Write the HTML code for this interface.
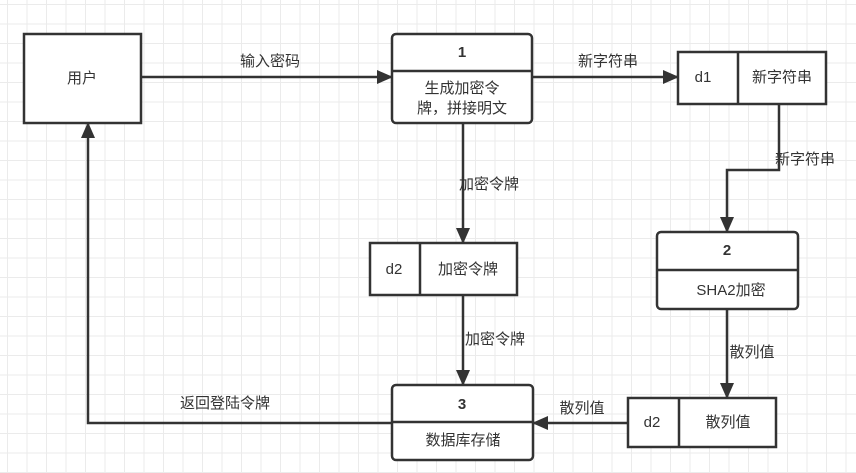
<!DOCTYPE html>
<html><head><meta charset="utf-8"><style>
body{margin:0;width:856px;height:473px;overflow:hidden;background:#fff;
background-image:linear-gradient(#ebebeb 1px,transparent 1px),linear-gradient(90deg,#ebebeb 1px,transparent 1px);background-size:19.5px 19.5px;background-position:7px 4px}
svg{position:absolute;left:0;top:0}
text{font-family:"Liberation Sans","Noto Sans CJK SC",sans-serif;font-size:15px;fill:#333;text-anchor:middle;dominant-baseline:middle}
.b{font-weight:bold}
</style></head><body>
<svg width="856" height="473" viewBox="0 0 856 473">
<defs><marker id="a2" markerWidth="16" markerHeight="14" refX="15" refY="7" orient="auto" markerUnits="userSpaceOnUse"><path d="M0,0 L16,7 L0,14 z" fill="#333"/></marker></defs>
<g stroke="#333" stroke-width="2.5" fill="#fff">
<rect x="24" y="34" width="117" height="89"/>
<rect x="392" y="34" width="140" height="89" rx="4"/><line x1="392" y1="71" x2="532" y2="71"/>
<rect x="678" y="52" width="148" height="52"/><line x1="738" y1="52" x2="738" y2="104"/>
<rect x="657" y="232" width="141" height="77" rx="4"/><line x1="657" y1="270" x2="798" y2="270"/>
<rect x="370" y="243" width="147" height="52"/><line x1="420" y1="243" x2="420" y2="295"/>
<rect x="628" y="398" width="148" height="49"/><line x1="679" y1="398" x2="679" y2="447"/>
<rect x="392" y="385" width="141" height="75" rx="4"/><line x1="392" y1="422" x2="533" y2="422"/>
<g fill="none" marker-end="url(#a2)">
<line x1="141" y1="77" x2="392" y2="77"/>
<line x1="532" y1="77" x2="678" y2="77"/>
<polyline points="779,104 779,170 727,170 727,232"/>
<line x1="727" y1="309" x2="727" y2="398"/>
<line x1="628" y1="423" x2="533" y2="423"/>
<line x1="463" y1="123" x2="463" y2="243"/>
<line x1="463" y1="295" x2="463" y2="385"/>
<polyline points="392,423 88,423 88,123"/>
</g></g>
<text x="82" y="79">用户</text>
<text x="462" y="53" class="b">1</text>
<text x="462" y="89">生成加密令</text>
<text x="462" y="109">牌，拼接明文</text>
<text x="270" y="62">输入密码</text>
<text x="608" y="62">新字符串</text>
<text x="703" y="78">d1</text><text x="782" y="78">新字符串</text>
<text x="805" y="160">新字符串</text>
<text x="727" y="251" class="b">2</text>
<text x="731" y="291">SHA2加密</text>
<text x="752" y="353">散列值</text>
<text x="652" y="423">d2</text><text x="728" y="423">散列值</text>
<text x="582" y="409">散列值</text>
<text x="462" y="405" class="b">3</text>
<text x="463" y="441">数据库存储</text>
<text x="225" y="404">返回登陆令牌</text>
<text x="489" y="185">加密令牌</text>
<text x="394" y="270">d2</text><text x="468" y="270">加密令牌</text>
<text x="495" y="340">加密令牌</text>
</svg>
</body></html>
